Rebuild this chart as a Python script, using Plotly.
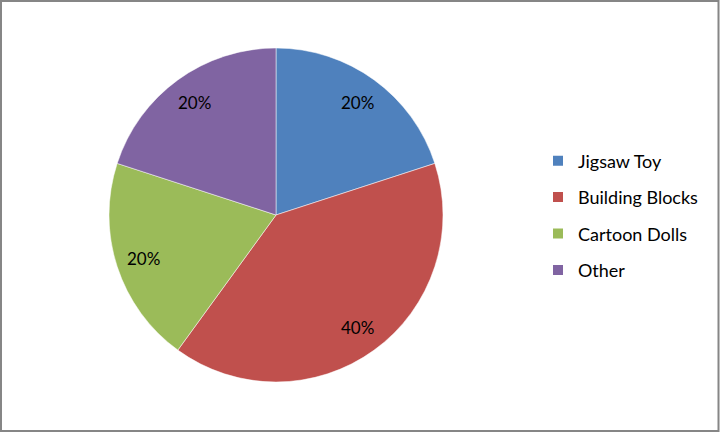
import math
import plotly.graph_objects as go

categories = ["Jigsaw Toy", "Building Blocks", "Cartoon Dolls", "Other"]
values = [20, 40, 20, 20]
colors = ["#4F81BD", "#C0504D", "#9BBB59", "#8064A2"]

W, H = 720, 433
CX, CY, R = 276, 215, 167          # pie centre / radius in pixels
LABEL_R = 0.835                    # label distance as fraction of radius
FONT = "Lato"

fig = go.Figure()
fig.add_trace(go.Pie(
    labels=categories, values=values, sort=False, direction="clockwise", rotation=0,
    marker=dict(colors=colors, line=dict(color="#FFFFFF", width=0.5)),
    textinfo="none", hoverinfo="label+percent",
    domain=dict(x=[(CX - R) / W, (CX + R) / W], y=[(H - CY - R) / H, (H - CY + R) / H]),
    showlegend=False,
))

# legend entries (square swatches) with custom spacing
for cat, col in zip(categories, colors):
    fig.add_trace(go.Scatter(
        x=[None], y=[None], mode="markers", name=cat, legendgroup=cat,
        marker=dict(symbol="square", size=10, color=col),
    ))

# percentage labels placed along each slice's bisector
total = sum(values)
annotations = []
cum = 0
for v in values:
    mid = (cum + v / 2) / total * 2 * math.pi
    cum += v
    px = CX + LABEL_R * R * math.sin(mid)
    py = CY - LABEL_R * R * math.cos(mid)
    annotations.append(dict(
        x=px / W, y=(H - py) / H, xref="paper", yref="paper",
        text=f"{round(v / total * 100)}%", showarrow=False,
        font=dict(family=FONT, size=17, color="#000000"),
        xanchor="center", yanchor="middle",
    ))

fig.update_layout(
    width=W, height=H, margin=dict(l=0, r=0, t=0, b=0),
    paper_bgcolor="white", plot_bgcolor="white",
    font=dict(family=FONT, size=17, color="#000000"),
    xaxis=dict(visible=False), yaxis=dict(visible=False),
    legend=dict(x=538 / W, y=(H - 215.5) / H, xanchor="left", yanchor="middle",
                font=dict(family=FONT, size=18, color="#000000"), itemwidth=30,
                tracegroupgap=10, bgcolor="rgba(0,0,0,0)"),
    annotations=annotations,
    shapes=[dict(type="rect", xref="paper", yref="paper",
                 x0=1 / W, y0=(H - 431) / H, x1=718.5 / W, y1=(H - 1) / H,
                 line=dict(color="#868686", width=2), fillcolor="rgba(0,0,0,0)")],
)
fig.write_html("out.html", config={"displayModeBar": False},
               post_script="document.body.style.margin='0';")
